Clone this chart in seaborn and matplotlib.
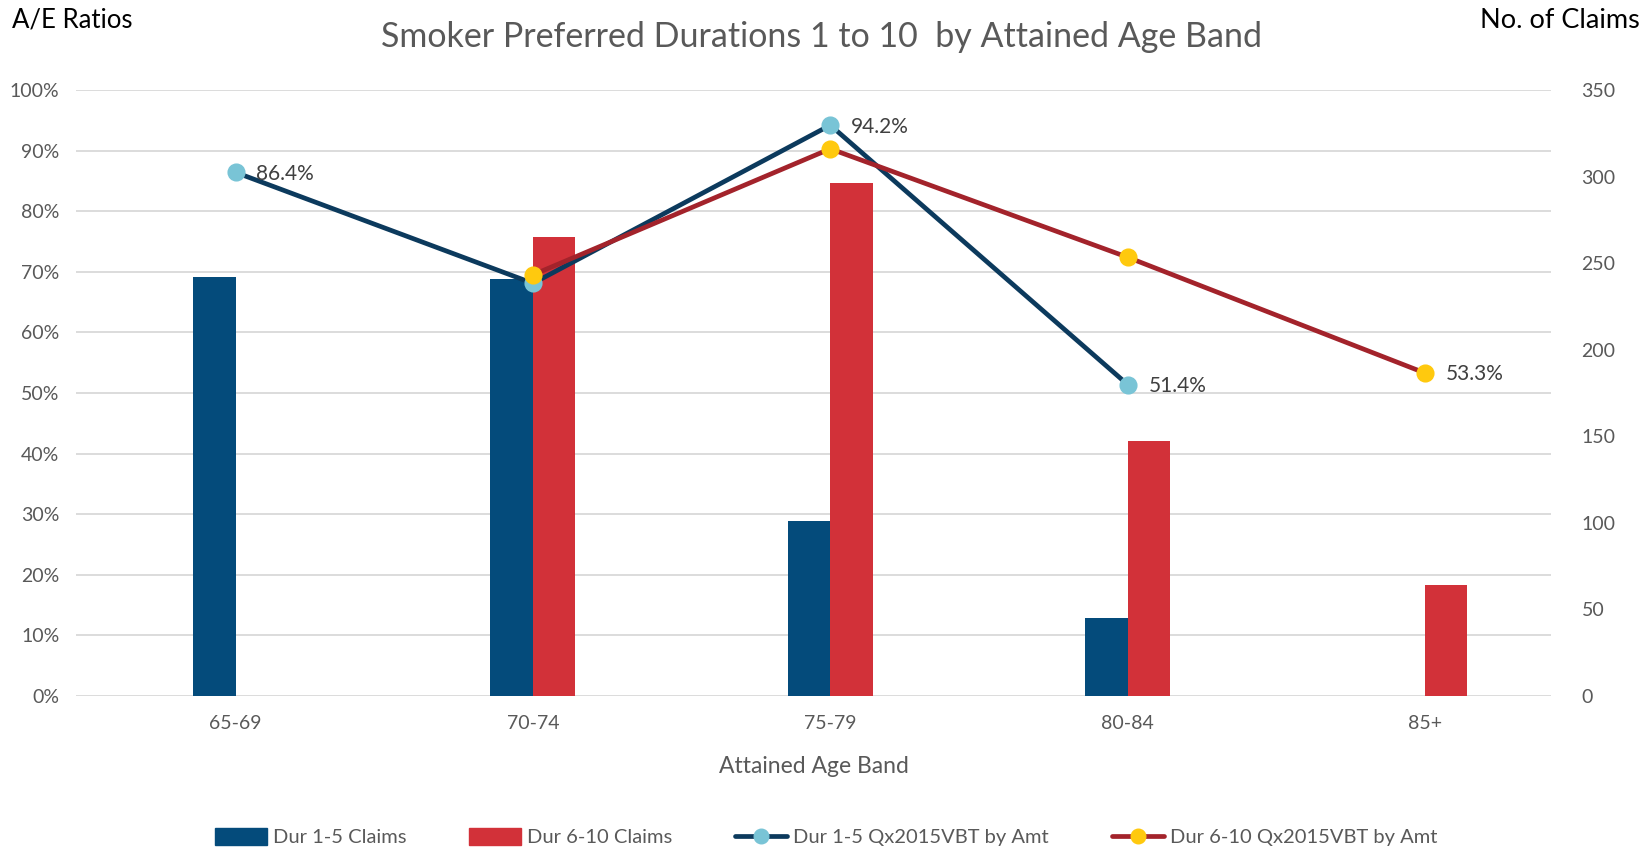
import numpy as np
import pandas as pd
import seaborn as sns
import matplotlib.pyplot as plt
from matplotlib.patches import Patch
from matplotlib.lines import Line2D
from matplotlib.ticker import MultipleLocator, PercentFormatter

sns.set_theme(style='white')
plt.rcParams['font.family'] = ['Lato', 'DejaVu Sans']

# Data
age_bands = ['65-69', '70-74', '75-79', '80-84', '85+']
bar_series = ['Dur 1-5 Claims', 'Dur 6-10 Claims']
line_series = ['Dur 1-5 Qx2015VBT by Amt', 'Dur 6-10 Qx2015VBT by Amt']
claims_dur1_5 = [242, 241, 101, 45, np.nan]
claims_dur6_10 = [np.nan, 265, 296, 147, 64]
ae_dur1_5 = [0.864, 0.681, 0.942, 0.514, np.nan]
ae_dur6_10 = [np.nan, 0.695, 0.903, 0.724, 0.533]
# (series index, age band index) of the points that carry a value label
labelled_points = [(0, 0), (0, 2), (0, 3), (1, 4)]

bar_colors = ['#044B7B', '#D23139']
line_colors = ['#0C3A5D', '#A3232B']
marker_colors = ['#79C4D6', '#FFC90E']
grey = '#595959'

bars = pd.DataFrame({'Age': age_bands * 2,
                     'Series': [bar_series[0]] * 5 + [bar_series[1]] * 5,
                     'Claims': claims_dur1_5 + claims_dur6_10}).dropna()
lines = pd.DataFrame({'Age': age_bands * 2,
                      'Series': [line_series[0]] * 5 + [line_series[1]] * 5,
                      'AE': ae_dur1_5 + ae_dur6_10}).dropna()

fig = plt.figure(figsize=(16.49, 8.5), dpi=100)
ax = fig.add_axes([76 / 1649, 1 - 696 / 850, (1551 - 76) / 1649, (696 - 90) / 850])

# Bars on claims axis (drawn underneath)
sns.barplot(data=bars, x='Age', y='Claims', hue='Series',
            order=age_bands, hue_order=bar_series, palette=bar_colors,
            width=0.286, saturation=1, linewidth=0, legend=False, ax=ax)
ax2 = ax.twinx()

ax.set_ylim(0, 350)
ax.set_xlim(-0.537, 4.424)
ax.yaxis.set_major_locator(MultipleLocator(50))
ax.yaxis.set_minor_locator(MultipleLocator(35))
ax.yaxis.remove_overlapping_locs = False
ax.grid(which='minor', axis='y', color='#D9D9D9', linewidth=1.3)
ax.set_axisbelow(True)
ax.yaxis.tick_right()
ax.tick_params(axis='y', which='both', length=0, labelsize=14, labelcolor=grey, pad=22)
ax.tick_params(axis='x', length=0, labelsize=14, labelcolor=grey, pad=14)
ax.set_ylabel('')
ax.set_xlabel('Attained Age Band', fontsize=16.5, color=grey, labelpad=17)

# Lines on A/E axis
sns.pointplot(data=lines, x='Age', y='AE', hue='Series',
              order=age_bands, hue_order=line_series, palette=line_colors,
              errorbar=None, markers='o', markersize=10.5, linewidth=3.4,
              legend=False, ax=ax2)
for ln, mc in zip(ax2.lines, marker_colors):
    ln.set_markerfacecolor(mc)
    ln.set_markeredgecolor(mc)
ax2.set_ylim(0, 1)
ax2.set_xlim(-0.537, 4.424)
ax2.yaxis.set_major_locator(MultipleLocator(0.1))
ax2.yaxis.set_major_formatter(PercentFormatter(1.0, decimals=0))
ax2.yaxis.tick_left()
ax2.tick_params(axis='y', length=0, labelsize=14, labelcolor=grey, pad=12)
ax2.set_ylabel('')

series_values = [ae_dur1_5, ae_dur6_10]
for s, i in labelled_points:
    v = series_values[s][i]
    ax2.annotate(f'{v:.1%}', xy=(i, v), xytext=(15, -1), textcoords='offset points',
                 ha='left', va='center', fontsize=15, color='#404040')

for a in (ax, ax2):
    for sp in a.spines.values():
        sp.set_visible(False)

fig.text(0.498, 1 - 37 / 850, 'Smoker Preferred Durations 1 to 10  by Attained Age Band',
         ha='center', va='center', fontsize=24.5, color=grey)
fig.text(12 / 1649, 1 - 20 / 850, 'A/E Ratios', ha='left', va='center', fontsize=18.5, color='black')
fig.text(1640 / 1649, 1 - 20 / 850, 'No. of Claims', ha='right', va='center', fontsize=19.5, color='black')

handles = [Patch(color=bar_colors[0]), Patch(color=bar_colors[1]),
           Line2D([], [], color=line_colors[0], lw=3.4, marker='o', markersize=10.5,
                  markerfacecolor=marker_colors[0], markeredgecolor=marker_colors[0]),
           Line2D([], [], color=line_colors[1], lw=3.4, marker='o', markersize=10.5,
                  markerfacecolor=marker_colors[1], markeredgecolor=marker_colors[1])]
fig.legend(handles, bar_series + line_series, loc='center', bbox_to_anchor=(826 / 1649, 1 - 837 / 850),
           ncol=4, frameon=False, fontsize=14.5, handlelength=2.6, handleheight=0.9,
           handletextpad=0.3, columnspacing=3.1, labelcolor=grey)

fig.savefig('out.png', dpi=100)
